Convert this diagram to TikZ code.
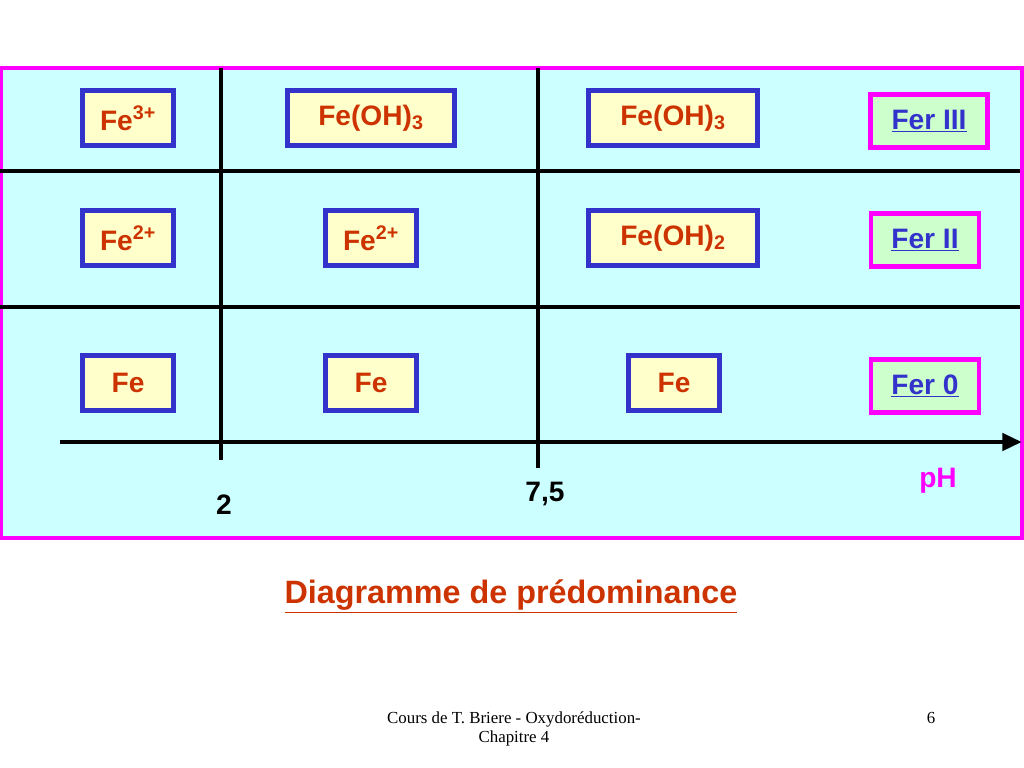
\documentclass[tikz,border=0pt]{standalone}
\usepackage{fontspec}
\setmainfont{Liberation Sans}
\newfontfamily\footfont{Liberation Serif}
\usetikzlibrary{arrows.meta}
\definecolor{fondcyan}{RGB}{204,255,255}
\definecolor{fondjaune}{RGB}{255,255,204}
\definecolor{fondvert}{RGB}{204,255,204}
\definecolor{bleubord}{RGB}{51,51,204}
\definecolor{rouille}{RGB}{204,51,0}
\definecolor{rose}{RGB}{255,0,255}
\tikzset{
  espece/.style={draw=bleubord,fill=fondjaune,line width=3.2pt,text=rouille,
    font=\fontsize{20}{22}\selectfont\bfseries,inner sep=0pt,minimum height=39pt},
  degre/.style={draw=rose,fill=fondvert,line width=3.2pt,text=bleubord,
    font=\fontsize{20}{22}\selectfont\bfseries,inner sep=0pt,minimum height=38pt,minimum width=77pt},
  trait/.style={line width=2.4pt},
}
\newcommand{\soul}[1]{\underline{#1}}
\begin{document}
\begin{tikzpicture}[x=0.025cm,y=-0.025cm]
  \useasboundingbox (0,0) rectangle (1024,768);
  % cadre
  \draw[rose,fill=fondcyan,line width=3pt] (1,68) rectangle (1022,538);
  \draw[trait] (0,171) -- (1020,171);
  \draw[trait] (0,307) -- (1020,307);
  \draw[line width=3.5pt] (221,68) -- (221,460);
  \draw[line width=3.5pt] (538,68) -- (538,468);
  \coordinate (debut) at (60,442);
  \coordinate (fin) at (1022,442);
  \draw[line width=3.5pt,-{Triangle[length=14pt,width=12pt]}] (debut) -- (fin);

  % especes
  \node[espece,minimum width=65pt] (fe3) at (128,118) {Fe\textsuperscript{3+}};
  \node[espece,minimum width=119pt] (feoh3a) at (371,118) {Fe(OH)\textsubscript{3}};
  \node[espece,minimum width=120pt] (feoh3b) at (673,118) {Fe(OH)\textsubscript{3}};
  \node[espece,minimum width=65pt] (fe2a) at (128,238) {Fe\textsuperscript{2+}};
  \node[espece,minimum width=65pt] (fe2b) at (371,238) {Fe\textsuperscript{2+}};
  \node[espece,minimum width=120pt] (feoh2) at (673,238) {Fe(OH)\textsubscript{2}};
  \node[espece,minimum width=65pt] (fea) at (128,383) {Fe};
  \node[espece,minimum width=65pt] (feb) at (371,383) {Fe};
  \node[espece,minimum width=65pt] (fec) at (674,383) {Fe};

  % degres
  \node[degre,minimum width=83pt] (ferIII) at (929,121) {\soul{Fer III}};
  \node[degre] (ferII) at (925,240) {\soul{Fer II}};
  \node[degre] (fer0) at (925,386) {\soul{Fer 0}};

  % graduations
  \node[font=\fontsize{20}{22}\selectfont\bfseries] (ph2) at (224,505) {2};
  \node[font=\fontsize{20}{22}\selectfont\bfseries] (ph75) at (545,494) {7,5};
  \node[font=\fontsize{20}{22}\selectfont\bfseries,text=rose] (ph) at (938,481) {pH};

  \node[font=\fontsize{23}{26}\selectfont\bfseries,text=rouille] (titre) at (511,596) {\soul{Diagramme de prédominance}};
  \node[font=\footfont\fontsize{12}{14}\selectfont,align=center] (pied) at (514,729) {Cours de T. Briere - Oxydoréduction-\\Chapitre 4};
  \node[font=\footfont\fontsize{12}{14}\selectfont] (page) at (931,718) {6};
\end{tikzpicture}
\end{document}
